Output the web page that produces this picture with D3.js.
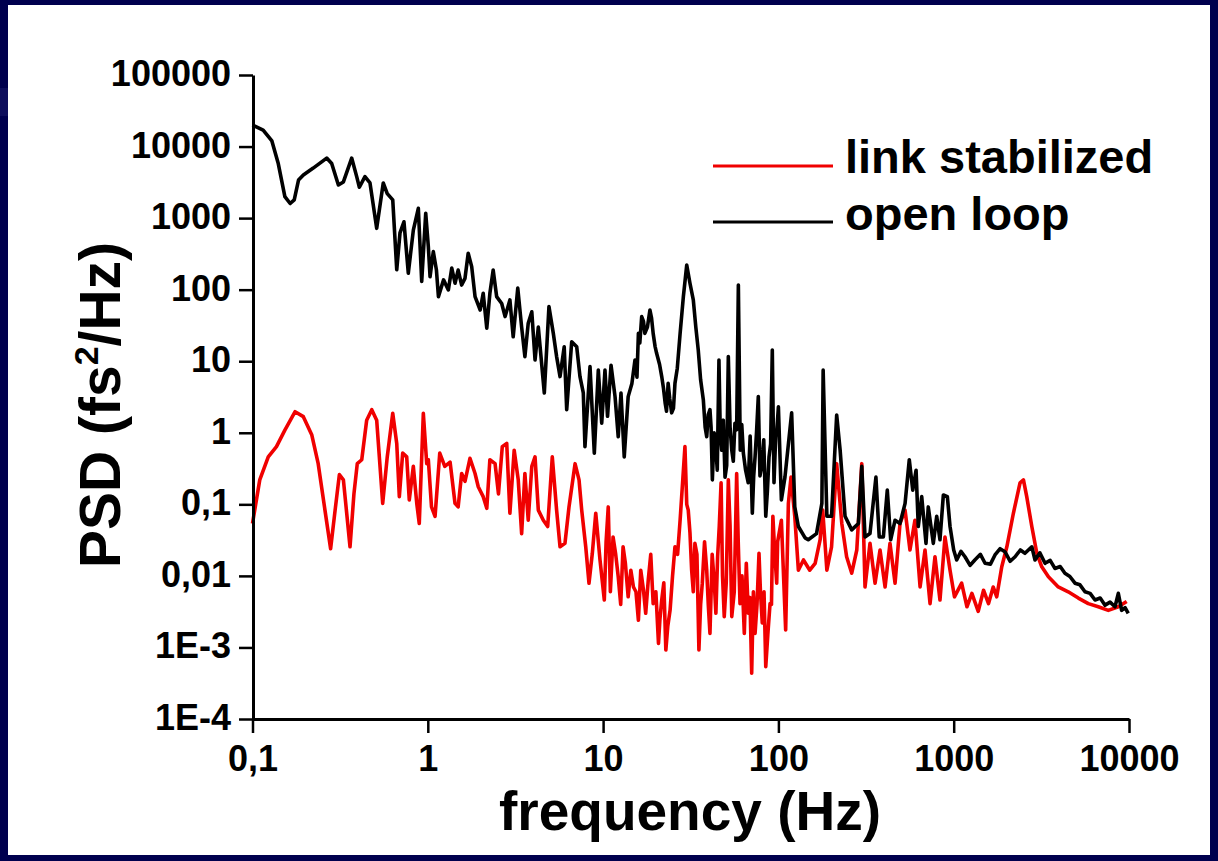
<!DOCTYPE html>
<html><head><meta charset="utf-8">
<script src="https://cdn.jsdelivr.net/npm/d3@7"></script>
<style>
html,body{margin:0;padding:0;background:#00004e;}
svg{display:block;}
text{font-family:"Liberation Sans",Arial,sans-serif;font-weight:bold;fill:#000;}
</style></head>
<body>
<svg id="chart" width="1218" height="861"></svg>
<script>
// ---- data: [frequency Hz, PSD fs^2/Hz] ----
const openLoop = [
[0.1,2.0e4],[0.115,1.7e4],[0.129,1.2e4],[0.140,5.9e3],[0.153,2.0e3],[0.164,1.6e3],[0.173,1.8e3],[0.183,3.4e3],[0.195,4.0e3],[0.222,5.0e3],[0.265,6.9e3],[0.283,5.8e3],[0.309,2.9e3],[0.330,3.2e3],[0.368,6.9e3],[0.393,3.8e3],[0.407,2.7e3],[0.438,3.8e3],[0.468,3.1e3],[0.511,720],[0.557,3.1e3],[0.587,2.2e3],[0.631,1.8e3],[0.665,190],[0.694,620],[0.731,890],[0.774,170],[0.827,680],[0.883,1370],[0.923,130],[0.973,1170],
[1.007,400],[1.03,152],[1.075,340],[1.12,188],[1.15,80],[1.23,137],[1.31,99],[1.37,200],[1.43,123],[1.49,188],[1.56,116],[1.63,144],[1.70,323],[1.78,210],[1.86,80],[1.99,52],[2.07,89],[2.17,29],[2.26,89],[2.36,188],[2.47,80],[2.64,64],[2.76,42],[2.94,72],[3.07,22],[3.26,105],[3.43,30],[3.58,11.6],[3.74,34],[3.92,49],[4.09,10.4],[4.27,30],[4.62,3.6],[4.91,58],[5.2,24.5],[5.43,11.6],[5.68,6.1],[6.0,15.9],[6.2,2.1],[6.62,18.7],[7.07,15.9],[7.38,6.1],[7.71,3.6],[7.88,0.64],[8.42,8.4],[8.91,0.52],[9.39,7.5],[9.82,1.36],
[10.25,7.5],[10.6,1.7],[11.1,8.8],[11.7,3.2],[12.2,0.88],[12.65,3.6],[13.2,0.46],[13.9,3.2],[14.6,4.9],[15.2,10.4],[15.6,6.0],[15.9,24.5],[16.2,18],[16.6,42],[17.0,36],[17.3,24.5],[17.9,30],[18.5,52],[18.9,40],[19.3,24.5],[19.8,16],[20.2,12.9],[21.0,9],[21.6,6.1],[22.1,4.2],[22.6,2.6],[23.0,2.0],[23.5,4.9],[24.0,3.0],[24.6,1.9],[25.2,2.2],[25.7,4.9],[26.5,8],[27.5,24.5],[28.7,80],[30.0,221],[31.3,123],[32.7,72],[33.8,30],[34.9,14.3],[36.0,5.5],[37.3,2.9],[38.2,1.2],[39.0,0.88],[39.8,1.8],[40.7,2.1],[41.3,1.2],[42.0,0.22],[43.0,1.0],[43.9,0.64],[44.8,0.3],[45.8,10.4],[46.6,1.0],[47.5,0.57],[48.5,1.5],[49.6,0.24],[50.7,0.35],[51.8,11.6],[53.0,1.2],[54.2,0.57],[55.3,0.4],[56.5,1.36],[57.8,1.1],[59.1,116],[60.6,0.57],[61.8,1.3],[63.1,0.52],[65.0,0.3],[67.3,0.2],[69.0,0.9],[71.0,0.075],[72.3,0.25],[73.6,0.46],[75.0,1.0],[76.8,3.2],[78.5,0.25],[80.3,0.34],[82.5,0.8],[84.7,0.068],[86.5,0.15],[88.4,0.46],[90.3,0.7],[92.3,14.3],[94.4,0.2],[96.5,0.88],[98.0,1.1],
[100,2.31],[104,0.115],[109,0.24],[119,1.9],[124,0.092],[130,0.049],[142,0.034],[148,0.032],[165,0.039],[177,0.103],[180,7.5],[189,0.068],[201,0.068],[215,1.77],[225,0.57],[240,0.068],[262,0.044],[286,0.054],[299,0.34],[312,0.035],[333,0.039],[360,0.24],[376,0.035],[397,0.035],[418,0.158],[437,0.032],[463,0.060],[494,0.054],[528,0.103],[558,0.42],[584,0.158],[610,0.30],[628,0.049],[657,0.128],[695,0.0285],[716,0.092],[765,0.0285],[800,0.068],[835,0.032],[873,0.135],[920,0.128],[953,0.049],
[1000,0.023],[1040,0.0167],[1100,0.022],[1160,0.0185],[1240,0.014],[1320,0.0167],[1420,0.020],[1510,0.015],[1620,0.0146],[1720,0.0196],[1840,0.024],[1960,0.0218],[2100,0.016],[2240,0.0185],[2400,0.023],[2550,0.0207],[2790,0.0255],[2910,0.0167],[3100,0.021],[3320,0.015],[3550,0.0165],[3780,0.0127],[4050,0.0135],[4310,0.0109],[4600,0.0098],[4920,0.0079],[5250,0.0075],[5610,0.0060],[6000,0.0057],[6400,0.0046],[6850,0.0049],[7300,0.0039],[7800,0.0043],[8320,0.0037],[8690,0.0057],[9080,0.0033],[9500,0.0036],[9900,0.0030]
];

const linkStabilized = [
[0.1,0.054],[0.110,0.22],[0.123,0.46],[0.137,0.64],[0.153,1.09],[0.175,1.97],[0.195,1.68],[0.218,0.93],[0.237,0.37],[0.259,0.083],[0.279,0.024],[0.296,0.083],[0.313,0.26],[0.330,0.22],[0.360,0.0255],[0.379,0.14],[0.396,0.37],[0.420,0.42],[0.448,1.5],[0.479,2.1],[0.511,1.5],[0.553,0.103],[0.587,0.46],[0.631,1.87],[0.665,0.71],[0.688,0.128],[0.719,0.52],[0.758,0.46],[0.784,0.115],[0.827,0.34],[0.865,0.103],[0.894,0.054],[0.943,1.87],[0.986,0.37],
[1.007,0.42],[1.05,0.092],[1.10,0.068],[1.17,0.52],[1.25,0.34],[1.34,0.39],[1.43,0.103],[1.49,0.092],[1.56,0.27],[1.63,0.21],[1.74,0.44],[1.86,0.27],[1.94,0.176],[2.07,0.128],[2.17,0.088],[2.26,0.42],[2.42,0.37],[2.53,0.14],[2.66,0.64],[2.82,0.71],[2.94,0.075],[3.11,0.57],[3.28,0.22],[3.43,0.039],[3.58,0.27],[3.74,0.060],[3.92,0.34],[4.09,0.46],[4.27,0.083],[4.56,0.060],[4.83,0.049],[5.13,0.46],[5.43,0.083],[5.68,0.0255],[6.06,0.0285],[6.39,0.092],[6.92,0.37],[7.29,0.22],[7.55,0.083],[7.96,0.0255],[8.31,0.0079],[8.68,0.0207],[9.08,0.075],[9.60,0.0167],
[10.16,0.0046],[10.4,0.03],[10.7,0.092],[11.0,0.006],[11.4,0.035],[11.8,0.02],[12.2,0.0097],[12.6,0.004],[13.0,0.0255],[13.4,0.015],[13.9,0.0051],[14.4,0.012],[14.9,0.0070],[15.4,0.006],[15.9,0.0024],[16.4,0.012],[17.0,0.0063],[17.5,0.003],[18.1,0.0088],[18.7,0.02],[19.3,0.0041],[20.0,0.006],[20.7,0.00114],[21.1,0.0025],[21.6,0.0046],[22.2,0.008],[22.8,0.00092],[23.4,0.002],[24.1,0.0033],[24.9,0.01],[25.7,0.0255],[26.6,0.02],[27.5,0.060],[28.4,0.2],[29.3,0.64],[30.0,0.1],[30.6,0.083],[31.3,0.04],[32.0,0.012],[32.7,0.006],[33.4,0.0285],[34.3,0.02],[35.2,0.00092],[36.0,0.004],[36.8,0.0079],[37.9,0.03],[39.0,0.012],[39.8,0.004],[40.7,0.00157],[41.9,0.02],[43.1,0.0079],[44.0,0.003],[45.0,0.0185],[46.0,0.05],[47.1,0.20],[48.0,0.01],[49.1,0.0027],[50.4,0.008],[51.8,0.22],[53.0,0.05],[54.2,0.0027],[56.0,0.006],[57.8,0.27],[59.0,0.03],[60.4,0.0041],[62.0,0.01],[63.9,0.00157],[65.6,0.015],[67.3,0.0030],[68.8,0.005],[70.4,0.000435],[72.0,0.006],[73.6,0.00157],[75.5,0.004],[77.5,0.0207],[79.0,0.006],[80.9,0.0022],[82.8,0.006],[84.7,0.00054],[87.0,0.0015],[89.6,0.0041],[91.3,0.004],[93.0,0.068],[95.4,0.02],[97.8,0.0079],[99.0,0.03],
[104,0.060],[110,0.00175],[114,0.103],[118,0.24],[124,0.068],[130,0.012],[139,0.0167],[151,0.012],[162,0.015],[173,0.032],[179,0.083],[189,0.012],[201,0.0255],[215,0.37],[230,0.054],[245,0.0185],[262,0.0109],[280,0.023],[299,0.37],[312,0.0070],[333,0.0285],[356,0.0079],[380,0.023],[406,0.0070],[433,0.0285],[463,0.0079],[494,0.054],[528,0.083],[563,0.023],[601,0.060],[643,0.0070],[686,0.023],[733,0.0041],[782,0.0185],[835,0.0046],[892,0.035],[953,0.012],
[1010,0.0051],[1110,0.0079],[1190,0.0037],[1270,0.0057],[1380,0.0032],[1480,0.0063],[1580,0.0041],[1680,0.0070],[1760,0.0051],[1880,0.0134],[2010,0.0255],[2190,0.075],[2390,0.20],[2500,0.22],[2610,0.128],[2790,0.049],[2980,0.0207],[3180,0.0134],[3470,0.0097],[3950,0.0070],[4500,0.0060],[5140,0.0049],[5860,0.0041],[6680,0.0037],[7620,0.0033],[8690,0.0037],[9700,0.0044]
];

const xTickValues = [0.1,1,10,100,1000,10000];
const xTickLabels = ["0,1","1","10","100","1000","10000"];
const yTickValues = [1e5,1e4,1e3,1e2,1e1,1,0.1,0.01,1e-3,1e-4];
const yTickLabels = ["100000","10000","1000","100","10","1","0,1","0,01","1E-3","1E-4"];
const seriesNames = ["link stabilized","open loop"];
const seriesColors = ["#f00000","#000000"];

// ---- drawing ----
const svg = d3.select("#chart");
svg.append("rect").attr("width",1218).attr("height",861).attr("fill","#00004e");
svg.append("rect").attr("x",0).attr("y",88).attr("width",8).attr("height",28).attr("fill","#0e0e5c");
svg.append("rect").attr("x",8).attr("y",5).attr("width",1202).attr("height",850).attr("fill","#ffffff");

const x = d3.scaleLog().domain([0.1,1e4]).range([252.5,1129]);
const y = d3.scaleLog().domain([1e-4,1e5]).range([719,75]);

const minorX = [], minorY = [];
for (let e=-1;e<4;e++) for (let m=2;m<10;m++) minorX.push(m*Math.pow(10,e));
for (let e=-4;e<5;e++) for (let m=2;m<10;m++) minorY.push(m*Math.pow(10,e));

const line = d3.line().x(d=>x(d[0])).y(d=>y(d[1]));

svg.append("path").datum(linkStabilized).attr("d",line).attr("fill","none")
  .attr("stroke",seriesColors[0]).attr("stroke-width",3.6).attr("stroke-linejoin","round");
svg.append("path").datum(openLoop).attr("d",line).attr("fill","none")
  .attr("stroke",seriesColors[1]).attr("stroke-width",3.6).attr("stroke-linejoin","round");

// axes
const gx = svg.append("g").attr("transform","translate(0,719)");
gx.call(d3.axisBottom(x).tickValues(minorX).tickSize(8).tickSizeOuter(0).tickFormat(""));
gx.call(d3.axisBottom(x).tickValues(xTickValues).tickSize(14).tickSizeOuter(0).tickFormat((d,i)=>xTickLabels[i]));
gx.selectAll(".domain").attr("stroke-width",3);
gx.selectAll(".tick line").attr("stroke-width",2.5);
gx.selectAll(".tick text").attr("y",52).attr("dy",0).style("font-size","36px").style("font-family","'Liberation Sans',Arial,sans-serif").style("font-weight","bold");

const gy = svg.append("g").attr("transform","translate(253,0)");
gy.call(d3.axisLeft(y).tickValues(minorY).tickSize(8).tickSizeOuter(0).tickFormat(""));
gy.call(d3.axisLeft(y).tickValues(yTickValues).tickSize(14).tickSizeOuter(0).tickFormat((d,i)=>yTickLabels[i]));
gy.selectAll(".domain").attr("stroke-width",3);
gy.selectAll(".tick line").attr("stroke-width",2.5);
gy.selectAll(".tick text").attr("x",-22).attr("dy",10.5).style("font-size","36px").style("font-family","'Liberation Sans',Arial,sans-serif").style("font-weight","bold");

// axis titles
svg.append("text").attr("x",690).attr("y",830).attr("text-anchor","middle")
  .style("font-size","55px").text("frequency (Hz)");
const yt = svg.append("text").attr("transform","translate(120,405) rotate(-90)")
  .attr("text-anchor","middle").style("font-size","57px");
yt.append("tspan").text("PSD (fs");
yt.append("tspan").attr("dy",-22).style("font-size","34px").text("2");
yt.append("tspan").attr("dy",22).text("/Hz)");

// legend
const legY = [166,222], legText = [173,230];
seriesNames.forEach((n,i)=>{
  svg.append("line").attr("x1",713).attr("x2",833).attr("y1",legY[i]).attr("y2",legY[i])
    .attr("stroke",seriesColors[i]).attr("stroke-width",3);
  svg.append("text").attr("x",845).attr("y",legText[i]).style("font-size","47px").text(n);
});
</script>
</body></html>
